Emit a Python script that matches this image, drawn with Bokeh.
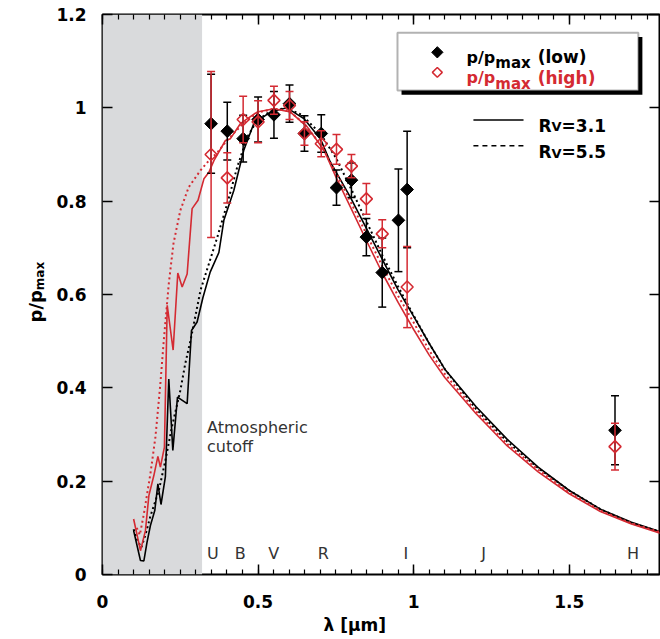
import numpy as np
from bokeh.plotting import figure
from bokeh.models import Range1d, FixedTicker, NumeralTickFormatter, LinearAxis, BoxAnnotation, Label, Title
from bokeh.core.properties import value
from bokeh.embed import file_html
from bokeh.resources import INLINE

# ---------------- data ----------------
# measured polarization, low-extinction sample
lam_low = [0.349, 0.401, 0.452, 0.500, 0.551, 0.601, 0.649, 0.703, 0.752, 0.800, 0.848, 0.899, 0.951, 0.979, 1.647]
p_low = [0.966, 0.950, 0.934, 0.975, 0.985, 1.009, 0.945, 0.945, 0.829, 0.845, 0.723, 0.647, 0.759, 0.825, 0.309]
err_low = [0.106, 0.062, 0.050, 0.048, 0.050, 0.040, 0.038, 0.040, 0.038, 0.037, 0.040, 0.074, 0.110, 0.125, 0.074]

# measured polarization, high-extinction sample
lam_high = [0.349, 0.401, 0.452, 0.500, 0.551, 0.601, 0.649, 0.703, 0.752, 0.800, 0.848, 0.899, 0.979, 1.647]
p_high = [0.900, 0.850, 0.975, 0.970, 1.016, 1.005, 0.945, 0.923, 0.911, 0.875, 0.805, 0.730, 0.616, 0.274]
err_high = [0.178, 0.054, 0.050, 0.045, 0.030, 0.030, 0.025, 0.028, 0.032, 0.025, 0.033, 0.030, 0.087, 0.050]

# model curves: low sample R_V=3.1 (solid) and R_V=5.5 (dotted)
lam_low31 = [0.100, 0.122, 0.133, 0.143, 0.154, 0.168, 0.178, 0.188, 0.202, 0.213, 0.226, 0.241, 0.272, 0.286,
             0.304, 0.323, 0.346, 0.374, 0.390, 0.422, 0.454, 0.486, 0.539, 0.593, 0.647, 0.700, 0.732, 0.796,
             0.851, 0.905, 0.950, 1.000, 1.050, 1.100, 1.200, 1.300, 1.400, 1.500, 1.600, 1.700, 1.800]
p_low31 = [0.094, 0.030, 0.029, 0.069, 0.105, 0.137, 0.194, 0.150, 0.209, 0.419, 0.266, 0.380, 0.366, 0.523,
           0.541, 0.594, 0.648, 0.690, 0.759, 0.823, 0.909, 0.966, 0.991, 1.000, 0.977, 0.934, 0.884, 0.809,
           0.738, 0.668, 0.610, 0.553, 0.495, 0.440, 0.360, 0.290, 0.230, 0.180, 0.140, 0.112, 0.090]

lam_low55 = [0.100, 0.113, 0.125, 0.138, 0.154, 0.181, 0.202, 0.223, 0.250, 0.266, 0.283, 0.315, 0.342, 0.369,
             0.401, 0.433, 0.465, 0.497, 0.540, 0.590, 0.640, 0.700, 0.750, 0.800, 0.850, 0.900, 0.950, 1.000,
             1.050, 1.100, 1.200, 1.300, 1.400, 1.500, 1.600, 1.700, 1.800]
p_low55 = [0.097, 0.072, 0.058, 0.085, 0.125, 0.180, 0.244, 0.316, 0.394, 0.452, 0.502, 0.609, 0.666, 0.723,
           0.795, 0.873, 0.937, 0.973, 0.993, 1.000, 0.985, 0.945, 0.893, 0.825, 0.754, 0.683, 0.617, 0.555,
           0.495, 0.440, 0.355, 0.285, 0.228, 0.180, 0.140, 0.110, 0.090]

# model curves: high sample R_V=3.1 (solid) and R_V=5.5 (dotted)
lam_high31 = [0.100, 0.122, 0.138, 0.149, 0.165, 0.178, 0.186, 0.199, 0.208, 0.227, 0.242, 0.256, 0.272, 0.288,
              0.307, 0.326, 0.342, 0.358, 0.395, 0.411, 0.443, 0.497, 0.551, 0.604, 0.658, 0.712, 0.750, 0.800,
              0.850, 0.900, 0.950, 1.000, 1.050, 1.100, 1.200, 1.300, 1.400, 1.500, 1.600, 1.700, 1.800]
p_high31 = [0.119, 0.051, 0.094, 0.169, 0.212, 0.253, 0.230, 0.273, 0.577, 0.481, 0.646, 0.616, 0.644, 0.784,
            0.802, 0.848, 0.862, 0.887, 0.930, 0.934, 0.966, 0.991, 0.998, 0.991, 0.959, 0.909, 0.852, 0.783,
            0.713, 0.645, 0.583, 0.525, 0.470, 0.422, 0.345, 0.276, 0.220, 0.173, 0.135, 0.108, 0.087]

lam_high55 = [0.110, 0.120, 0.133, 0.154, 0.170, 0.186, 0.196, 0.213, 0.228, 0.250, 0.277, 0.315, 0.342, 0.370,
              0.400, 0.450, 0.500, 0.550, 0.600, 0.650, 0.700, 0.750, 0.800, 0.850, 0.900, 0.950, 1.000, 1.050,
              1.100, 1.200, 1.300, 1.400, 1.500, 1.600, 1.700, 1.800]
p_high55 = [0.100, 0.085, 0.130, 0.216, 0.294, 0.409, 0.494, 0.623, 0.709, 0.780, 0.830, 0.866, 0.887, 0.905,
            0.930, 0.965, 0.990, 0.998, 0.993, 0.965, 0.922, 0.862, 0.795, 0.727, 0.660, 0.597, 0.540, 0.480,
            0.430, 0.350, 0.280, 0.225, 0.176, 0.137, 0.110, 0.089]

band_names = ["U", "B", "V", "R", "I", "J", "H"]
band_lam = [0.355, 0.443, 0.550, 0.710, 0.975, 1.225, 1.705]

CUTOFF = 0.32
x_major = [0, 0.5, 1.0, 1.5]
x_minor = [round(0.05 * i, 2) for i in range(37)]
y_major = [0, 0.2, 0.4, 0.6, 0.8, 1.0, 1.2]

# ---------------- style ----------------
RED = "#d42a32"
GRAY_TXT = "#333333"
FONT = "DejaVu Sans"

W = {' ': .348, '(': .458, ')': .458, '/': .365, '.': .381, '=': .838, '1': .696, '3': .696, '5': .696,
     'R': .770, 'V': .774, 'a': .675, 'g': .716, 'h': .712, 'i': .343, 'l': .343, 'm': 1.042, 'o': .687,
     'p': .716, 'w': .924, 'x': .712, '[': .457, ']': .457, 'μ': .73, 'λ': .70}


def twidth(s, size):
    return sum(W.get(c, 0.65) for c in s) * size


p = figure(width=660, height=639, output_backend="svg", toolbar_location=None,
           x_range=Range1d(0, 1.79), y_range=Range1d(0, 1.2),
           min_border_left=102, min_border_right=1, min_border_top=14, min_border_bottom=65,
           x_axis_location=None, y_axis_location=None)
p.xgrid.visible = False
p.ygrid.visible = False
p.outline_line_color = "black"
p.outline_line_width = 2
p.background_fill_color = "white"
p.border_fill_color = "white"


def make_axis(major, minor, show_labels, standoff):
    ax = LinearAxis(ticker=FixedTicker(ticks=major, minor_ticks=minor),
                    formatter=NumeralTickFormatter(format="0.[0]"),
                    axis_line_color=None,
                    major_tick_in=10, major_tick_out=0, major_tick_line_width=1.5,
                    minor_tick_in=5, minor_tick_out=0, minor_tick_line_width=1.2,
                    major_label_standoff=standoff,
                    major_label_text_font=FONT, major_label_text_font_style="bold",
                    major_label_text_font_size="17px", major_label_text_color="black")
    if not show_labels:
        ax.major_label_text_font_size = "0px"
        ax.major_label_standoff = 0
        ax.major_label_overrides = {t: "" for t in major}
    return ax


p.add_layout(make_axis(x_major, x_minor, True, 20), "below")
p.add_layout(make_axis(x_major, x_minor, False, 0), "above")
p.add_layout(make_axis(y_major, [], True, 16), "left")
p.add_layout(make_axis(y_major, [], False, 0), "right")

# x-axis title (a Title in the bottom panel is not clipped to the frame)
p.add_layout(Title(text="λ [μm]", align="left", offset=221, standoff=4, text_font=FONT,
                   text_font_style="bold", text_font_size="17px", text_color="black"), "below")

# atmospheric cutoff band
p.add_layout(BoxAnnotation(left=0, right=CUTOFF, fill_color="#d9dadc", fill_alpha=1.0,
                           line_color=None, level="underlay"))

# legend box with shadow (underlay so that the legend symbols draw above it)
p.add_layout(BoxAnnotation(left=0.961, right=1.735, top=1.152, bottom=1.028, fill_color="black",
                           fill_alpha=1.0, line_color=None, level="underlay"))
p.add_layout(BoxAnnotation(left=0.948, right=1.722, top=1.161, bottom=1.037, fill_color="white",
                           fill_alpha=1.0, line_color="black", line_width=2, level="underlay"))

# model curves
p.line(lam_low31, p_low31, line_color="black", line_width=1.6)
p.line(lam_low55, p_low55, line_color="black", line_width=2, line_dash="2 3")
p.line(lam_high31, p_high31, line_color=RED, line_width=1.6)
p.line(lam_high55, p_high55, line_color=RED, line_width=2, line_dash="2 3")

# error bars and points
lo_l = np.array(p_low) - np.array(err_low)
hi_l = np.array(p_low) + np.array(err_low)
lo_h = np.array(p_high) - np.array(err_high)
hi_h = np.array(p_high) + np.array(err_high)

p.segment(lam_low, lo_l, lam_low, hi_l, line_color="black", line_width=1.5)
p.scatter(lam_low + lam_low, list(lo_l) + list(hi_l), marker="dash", size=8, line_color="black", line_width=1.5)
p.scatter(lam_low, p_low, marker="square", angle=np.pi / 4, size=9, fill_color="black", line_color="black")

p.segment(lam_high, lo_h, lam_high, hi_h, line_color=RED, line_width=1.5)
p.scatter(lam_high + lam_high, list(lo_h) + list(hi_h), marker="dash", size=8, line_color=RED, line_width=1.5)
p.scatter(lam_high, p_high, marker="square", angle=np.pi / 4, size=8.5, fill_color=None, line_color=RED,
          line_width=1.6)

# band letters
p.text(x=band_lam, y=[0.045] * len(band_lam), text=band_names, text_font=value(FONT),
       text_font_size="16px", text_align="center", text_baseline="alphabetic", text_color=GRAY_TXT)

# atmospheric cutoff note
for txt, yy in [("Atmospheric", 0.316), ("cutoff", 0.274)]:
    p.add_layout(Label(x=CUTOFF, y=yy, x_offset=5, text=txt, text_font=FONT, text_font_size="16px",
                       text_color=GRAY_TXT, text_baseline="alphabetic", text_align="left"))


def rich(x, y, pieces, angle=0.0, place="center"):
    """pieces: (text, size_px, drop_px, color); drop>0 moves text below the baseline (subscript)."""
    off = 0.0
    for txt, size, drop, col in pieces:
        lead = len(txt) - len(txt.lstrip(" "))
        off += twidth(" " * lead, size)
        t = txt.lstrip(" ")
        if angle == 0:
            xo, yo = off, -drop
        else:
            xo, yo = drop, off
        p.add_layout(Label(x=x, y=y, x_offset=xo, y_offset=yo, text=t,
                           text_font=FONT, text_font_size=f"{size}px", text_font_style="bold",
                           text_color=col, text_baseline="alphabetic", text_align="left", angle=angle), place)
        off += twidth(t, size)


# legend: symbols
p.scatter([1.076], [1.119], marker="square", angle=np.pi / 4, size=8, fill_color="black", line_color="black")
p.scatter([1.076], [1.076], marker="square", angle=np.pi / 4, size=7, fill_color=None, line_color=RED,
          line_width=1.5)
rich(1.170, 1.108, [("p/p", 16, 0, "black"), ("max", 15, 6, "black"), (" (low)", 17, 0, "black")])
rich(1.170, 1.065, [("p/p", 16, 0, RED), ("max", 15, 6, RED), (" (high)", 17, 0, RED)])

# R_V line samples
p.line([1.192, 1.353], [0.974, 0.974], line_color="black", line_width=1.5)
p.line([1.192, 1.353], [0.919, 0.919], line_color="black", line_width=1.5, line_dash="5 4")
rich(1.401, 0.962, [("R", 17, 0, "black"), ("V", 13, 1, "black"), ("=3.1", 17, 0, "black")])
rich(1.401, 0.905, [("R", 17, 0, "black"), ("V", 13, 1, "black"), ("=5.5", 17, 0, "black")])

# y-axis title: labels placed in the left side panel so they are not clipped to the frame
rich(-0.215, 0.540, [("p/p", 18, 0, "black"), ("max", 12, 4, "black")], angle=np.pi / 2, place="left")

open("out.html", "w").write(file_html(p, INLINE))
